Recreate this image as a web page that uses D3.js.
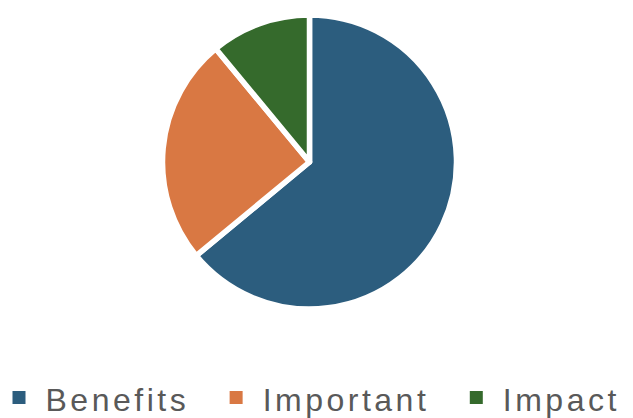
<!DOCTYPE html>
<html>
<head>
<meta charset="utf-8">
<script src="https://cdn.jsdelivr.net/npm/d3@7"></script>
<style>
  body { margin: 0; background: #fff; }
  svg { display: block; }
</style>
</head>
<body>
<div id="chart"></div>
<script>
var categories = ["Benefits", "Important", "Impact"];
var values = [64, 25, 11];
var colors = ["#2c5d7e", "#d97843", "#356a2c"];

var width = 633, height = 418;
var cx = 309.5, cy = 162, radius = 147;

var svg = d3.select("#chart").append("svg")
  .attr("width", width)
  .attr("height", height);

var data = categories.map(function(c, i){ return {name: c, value: values[i]}; });

var color = d3.scaleOrdinal().domain(categories).range(colors);

var pie = d3.pie().sort(null).value(function(d){ return d.value; });
var arc = d3.arc().innerRadius(0).outerRadius(radius);

var g = svg.append("g").attr("transform", "translate(" + cx + "," + cy + ")");

g.selectAll("path")
  .data(pie(data))
  .enter()
  .append("path")
  .attr("d", arc)
  .attr("fill", function(d){ return color(d.data.name); })
  .attr("stroke", "#fff")
  .attr("stroke-width", 5.5)
  .attr("stroke-linejoin", "round");

// legend
var legend = svg.append("g").attr("class", "legend");
var sq = 13, textGap = 20, itemGap = 40.5;

var items = legend.selectAll("g")
  .data(data)
  .enter()
  .append("g");

items.append("rect")
  .attr("width", sq)
  .attr("height", sq)
  .attr("y", -20)
  .attr("fill", function(d){ return color(d.name); });

items.append("text")
  .attr("x", sq + textGap)
  .style("font-family", "'Liberation Sans', Arial, sans-serif")
  .style("font-size", "32px")
  .style("letter-spacing", "3.5px")
  .style("fill", "#595959")
  .text(function(d){ return d.name; });

var x = 0;
items.each(function(d){
  var w = sq + textGap + this.querySelector("text").getComputedTextLength();
  d3.select(this).attr("transform", "translate(" + x + ",0)");
  x += w + itemGap;
});
legend.attr("transform", "translate(12.5,411)");
</script>
</body>
</html>
